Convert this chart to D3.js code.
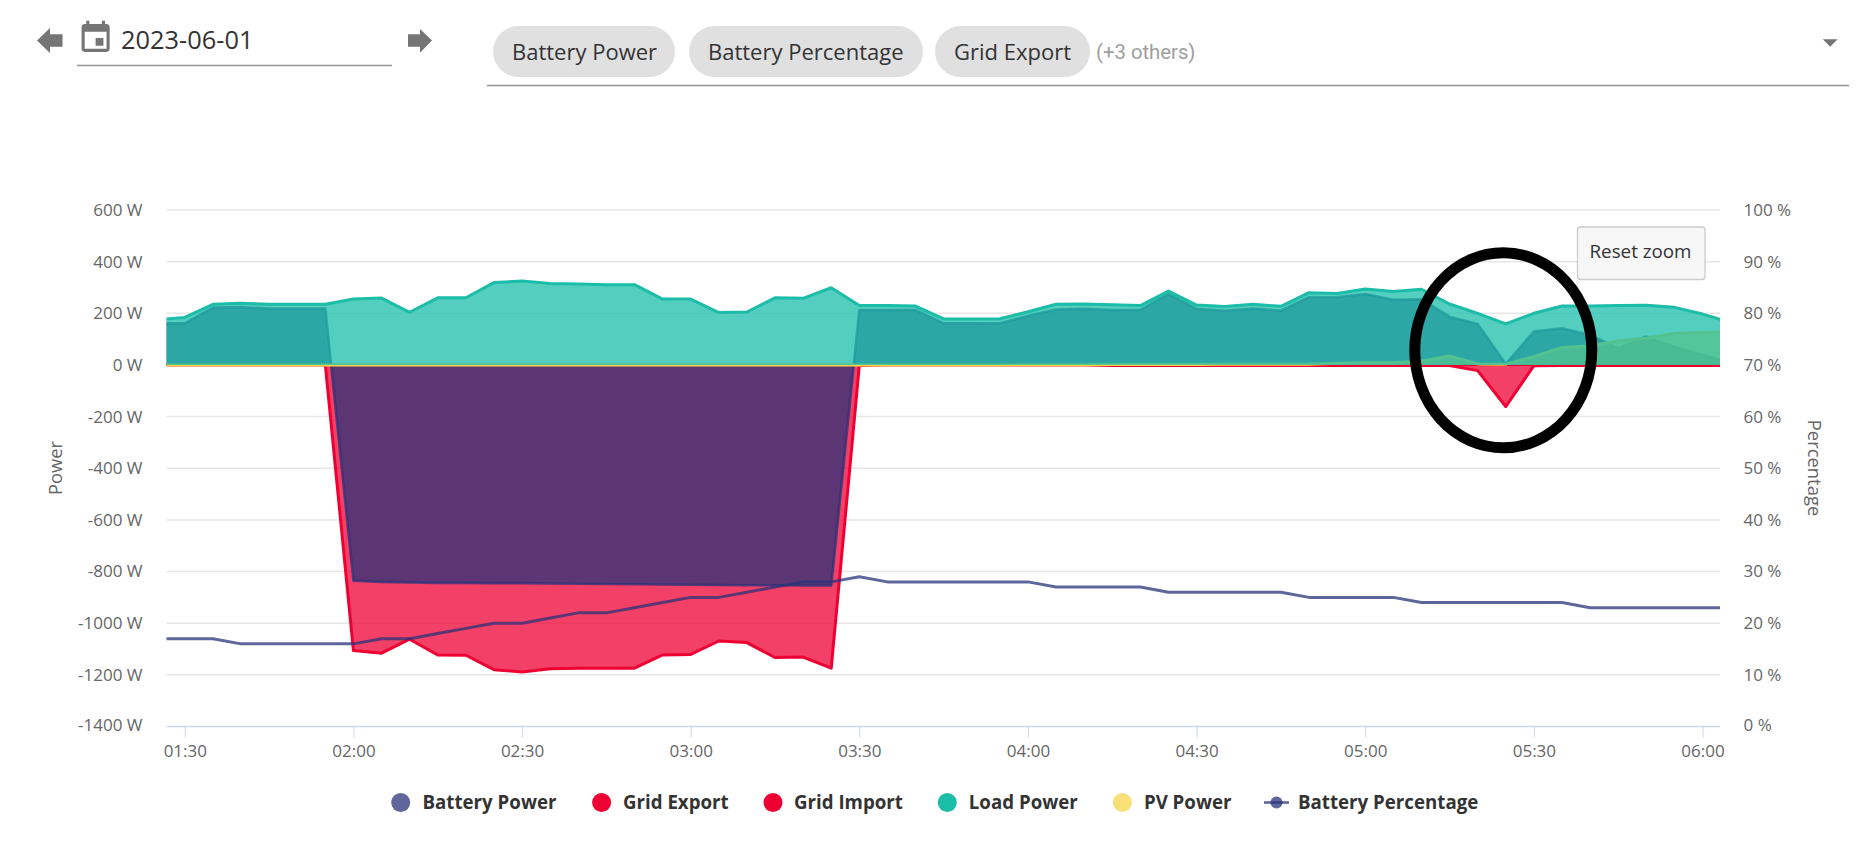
<!DOCTYPE html>
<html>
<head>
<meta charset="utf-8">
<script src="https://cdnjs.cloudflare.com/ajax/libs/d3/7.8.5/d3.min.js"></script>
<style>
  html, body { margin: 0; padding: 0; background: #fff; overflow: hidden; }
  svg { display: block; font-family: "Open Sans", sans-serif; }
  .tick-label { font-size: 17px; fill: #666; }
  .axis-title { font-size: 18.4px; fill: #666; }
  .legend-label { font-size: 18.7px; font-weight: 700; fill: #333; }
</style>
</head>
<body>
<svg id="chart" width="1863" height="851"></svg>
<script>
var times = ["01:25","01:30","01:35","01:40","01:45","01:50","01:55",
  "02:00","02:05","02:10","02:15","02:20","02:25","02:30","02:35","02:40","02:45","02:50","02:55",
  "03:00","03:05","03:10","03:15","03:20","03:25","03:30","03:35","03:40","03:45","03:50","03:55",
  "04:00","04:05","04:10","04:15","04:20","04:25","04:30","04:35","04:40","04:45","04:50","04:55",
  "05:00","05:05","05:10","05:15","05:20","05:25","05:30","05:35","05:40","05:45","05:50","05:55",
  "06:00","06:05"];

var batteryPower = [161,161,222,224,218,218,218,
  -835,-840,-842,-844,-844,-845,-845,-846,-847,-848,-849,-850,
  -851,-852,-853,-853,-854,-854,213,213,213,161,161,161,
  190,215,217,213,213,275,217,210,218,210,262,262,
  275,252,254,187,159,4,129,142,116,65,110,70,
  39,8];
var gridExport = [0,0,0,0,0,0,0,0,0,0,0,0,0,0,0,0,0,0,0,
  0,0,0,0,0,0,0,0,0,0,0,0,0,0,0,0,0,0,0,0,0,0,0,0,
  0,0,0,0,0,0,0,0,0,0,0,0,0,0];
var gridImport = [0,0,0,0,0,0,0,
  -1106,-1116,-1062,-1123,-1124,-1180,-1189,-1176,-1174,-1174,-1174,-1123,
  -1121,-1069,-1075,-1133,-1131,-1174,-2,0,0,0,0,0,
  0,0,0,-2,-2,-2,-2,-2,-2,-2,-2,-2,
  -2,-2,-2,-2,-22,-161,-3,-2,-2,-2,-2,-2,
  -2,-2];
var loadPower = [175,184,235,239,235,235,235,
  255,259,204,260,260,319,325,315,313,311,311,255,
  255,203,205,260,258,299,230,230,228,178,178,179,
  206,235,236,233,230,286,232,226,235,227,280,277,
  294,284,293,236,200,159,200,228,228,230,231,223,
  197,165];
var pvPower = [0,0,0,0,0,0,0,0,0,0,0,0,0,0,0,0,0,0,0,
  0,0,0,0,0,0,0,0,0,0,0,0,
  1,1,1,2,2,2,2,3,3,3,3,7,
  9,9,14,35,4,3,32,68,73,94,103,122,
  126,128];
var batteryPercentage = [17,17,17,16,16,16,16,
  16,17,17,18,19,20,20,21,22,22,23,24,
  25,25,26,27,28,28,29,28,28,28,28,28,
  28,27,27,27,27,26,26,26,26,26,25,25,
  25,25,24,24,24,24,24,24,23,23,23,23,
  23,23];

var powerTicks = [600,400,200,0,-200,-400,-600,-800,-1000,-1200,-1400];
var percentTicks = [100,90,80,70,60,50,40,30,20,10,0];
var timeTicks = ["01:30","02:00","02:30","03:00","03:30","04:00","04:30","05:00","05:30","06:00"];
var chipNames = ["Battery Power","Battery Percentage","Grid Export"];
var legendNames = ["Battery Power","Grid Export","Grid Import","Load Power","PV Power","Battery Percentage"];

var navy = "#29337a", red = "#ee0033", teal = "#1bbda8", yellow = "#f7d449";

var plot = {left:166.5, right:1720, top:210, bottom:726.5};
var svg = d3.select("#chart");
var parseTime = d3.timeParse("%H:%M");
var formatTime = d3.timeFormat("%H:%M");

var xScale = d3.scaleTime()
  .domain([parseTime("01:30"), parseTime("06:00")])
  .range([184.8, 1702.5]);
var yScale = d3.scaleLinear().domain([-1400,600]).range([plot.bottom, plot.top]);
var pctScale = d3.scaleLinear().domain([0,100]).range([plot.bottom, plot.top]);

// header
var drawHeader = function()
{
  var head = svg.append("g");
  head.append("path").attr("d","M37 40.5 L50 28 V34.2 H62.5 V46.8 H50 V53 Z").attr("fill","#757575");
  head.append("path").attr("d","M432 40.5 L420 29 V34.2 H408 V46.8 H420 V52.7 Z").attr("fill","#757575");
  head.append("path")
    .attr("d","M17 12h-5v5h5v-5zM16 1v2H8V1H6v2H5c-1.11 0-1.99.9-1.99 2L3 19c0 1.1.89 2 2 2h14c1.1 0 2-.9 2-2V5c0-1.1-.9-2-2-2h-1V1h-2zm3 18H5V8h14v11z")
    .attr("transform","translate(76.9,19.2) scale(1.56)")
    .attr("fill","#757575");
  head.append("text").text("2023-06-01")
    .attr("x",121).attr("y",48.5)
    .attr("font-size",25.4).attr("fill","#333");
  head.append("line").attr("x1",77).attr("x2",392).attr("y1",65.5).attr("y2",65.5)
    .attr("stroke","#949494").attr("stroke-width",1.3);

  var chipBox = [[493,675,512],[689,923,708],[935,1090,954]];
  chipNames.forEach(function(name,i)
  {
    var b = chipBox[i];
    head.append("rect")
      .attr("x",b[0]).attr("y",26).attr("width",b[1]-b[0]).attr("height",51)
      .attr("rx",25.5).attr("fill","#e0e0e0");
    head.append("text").text(name)
      .attr("x",b[2]).attr("y",59.5)
      .attr("font-size",22).attr("fill","#333");
  });
  head.append("text").text("(+3 others)")
    .attr("x",1096).attr("y",58.5)
    .attr("font-family","Roboto").attr("font-size",20.3).attr("fill","#9e9e9e");
  head.append("line").attr("x1",487).attr("x2",1849).attr("y1",85.5).attr("y2",85.5)
    .attr("stroke","#949494").attr("stroke-width",1.3);
  head.append("path").attr("d","M1822.8 39.3 H1837.6 L1830.2 46.8 Z").attr("fill","#757575");
}

var drawAxes = function()
{
  var grid = svg.append("g");
  grid.selectAll("line")
    .data(powerTicks.filter(function(d){return d != -1400}))
    .enter()
    .append("line")
    .attr("x1",plot.left).attr("x2",plot.right)
    .attr("y1",function(d){return yScale(d)})
    .attr("y2",function(d){return yScale(d)})
    .attr("stroke","#e6e6e6").attr("stroke-width",1.5);

  var xAxis = d3.axisBottom(xScale)
    .tickValues(timeTicks.map(parseTime))
    .tickFormat(formatTime)
    .tickSize(11)
    .tickPadding(6);
  var xg = svg.append("g")
    .attr("transform","translate(0,"+plot.bottom+")")
    .call(xAxis)
    .attr("font-family",null).attr("font-size",null);
  xg.select(".domain").remove();
  xg.selectAll(".tick line").attr("stroke","#ccd6eb");
  xg.selectAll(".tick text").attr("class","tick-label").attr("dy",null).attr("y",30);
  svg.append("line")
    .attr("x1",plot.left).attr("x2",plot.right)
    .attr("y1",plot.bottom).attr("y2",plot.bottom)
    .attr("stroke","#ccd6eb").attr("stroke-width",1.5);

  // bottom label sits a little higher than the others
  var yAxis = d3.axisLeft(yScale)
    .tickValues(powerTicks)
    .tickFormat(function(d){return d+" W"})
    .tickSize(0);
  var yg = svg.append("g").attr("transform","translate(142.5,0)").call(yAxis)
    .attr("font-family",null).attr("font-size",null);
  yg.select(".domain").remove();
  yg.selectAll(".tick text").attr("class","tick-label").attr("x",0)
    .attr("dy",function(d){return d == -1400 ? 4.2 : 5.4});

  var rAxis = d3.axisRight(pctScale)
    .tickValues(percentTicks)
    .tickFormat(function(d){return d+" %"})
    .tickSize(0);
  var rg = svg.append("g").attr("transform","translate(1743.5,0)").call(rAxis)
    .attr("font-family",null).attr("font-size",null);
  rg.select(".domain").remove();
  rg.selectAll(".tick text").attr("class","tick-label").attr("x",0)
    .attr("dy",function(d){return d == 0 ? 3.6 : 5.4});

  svg.append("text").text("Power").attr("class","axis-title")
    .attr("text-anchor","middle")
    .attr("transform","translate(61.5,468) rotate(-90)");
  svg.append("text").text("Percentage").attr("class","axis-title")
    .attr("text-anchor","middle")
    .attr("transform","translate(1807.5,468) rotate(90)");
}

var drawSeries = function()
{
  svg.append("clipPath").attr("id","plot-clip")
    .append("rect")
    .attr("x",plot.left).attr("y",plot.top-20)
    .attr("width",plot.right-plot.left).attr("height",plot.bottom-plot.top+20);

  var g = svg.append("g").attr("clip-path","url(#plot-clip)");
  var xOf = function(d,i){return xScale(parseTime(times[i]))};
  var area = d3.area().x(xOf).y0(yScale(0)).y1(function(d){return yScale(d)});
  var line = d3.line().x(xOf).y(function(d){return yScale(d)});

  // back to front, same stacking as the reference
  var stack = [
    {values:gridExport, color:red, strokeOpacity:1, width:2},
    {values:gridImport, color:red, strokeOpacity:1, width:3},
    {values:batteryPower, color:navy, strokeOpacity:0.75, width:2.6},
    {values:pvPower, color:yellow, strokeOpacity:1, width:3},
    {values:loadPower, color:teal, strokeOpacity:1, width:3}
  ];
  stack.forEach(function(s)
  {
    g.append("path").datum(s.values)
      .attr("d",area)
      .attr("fill",s.color).attr("fill-opacity",0.75);
    g.append("path").datum(s.values)
      .attr("d",line)
      .attr("fill","none")
      .attr("stroke",s.color).attr("stroke-opacity",s.strokeOpacity)
      .attr("stroke-width",s.width)
      .attr("stroke-linejoin","round");
  });

  var pctLine = d3.line().x(xOf).y(function(d){return pctScale(d)});
  g.append("path").datum(batteryPercentage)
    .attr("d",pctLine)
    .attr("fill","none")
    .attr("stroke",navy).attr("stroke-opacity",0.75)
    .attr("stroke-width",3)
    .attr("stroke-linejoin","round");
}

var drawLegend = function()
{
  var cols = [navy,red,red,teal,yellow,navy];
  var opac = [0.75,1,1,1,0.75,0.75];
  var centers = [400.7,601.6,773,947.3,1122.4,1276.5];
  var textX = [422.5,623,794,968.8,1143.9,1298];
  var legend = svg.append("g");
  legendNames.forEach(function(name,i)
  {
    if (i == 5)
    {
      legend.append("line")
        .attr("x1",centers[i]-12.5).attr("x2",centers[i]+12.5)
        .attr("y1",802.5).attr("y2",802.5)
        .attr("stroke",cols[i]).attr("stroke-opacity",0.75).attr("stroke-width",2.6);
    }
    legend.append("circle")
      .attr("cx",centers[i]).attr("cy",802.5)
      .attr("r",i == 5 ? 6 : 9.5)
      .attr("fill",cols[i]).attr("fill-opacity",opac[i]);
    legend.append("text").text(name).attr("class","legend-label")
      .attr("x",textX[i]).attr("y",808.5);
  });
}

var drawReset = function()
{
  svg.append("rect")
    .attr("x",1577.5).attr("y",227).attr("width",127.5).attr("height",52.5)
    .attr("rx",3).attr("fill","#f7f7f7").attr("stroke","#cccccc").attr("stroke-width",1.3);
  svg.append("text").text("Reset zoom")
    .attr("x",1640.5).attr("y",258)
    .attr("text-anchor","middle").attr("font-size",18.8).attr("fill","#333");
}

drawHeader();
drawAxes();
drawSeries();
drawLegend();
drawReset();

// hand drawn circle on top of the screenshot
svg.append("ellipse")
  .attr("cx",1503.3).attr("cy",350.3).attr("rx",88.5).attr("ry",97.5)
  .attr("fill","none").attr("stroke","#000").attr("stroke-width",11);
</script>
</body>
</html>
